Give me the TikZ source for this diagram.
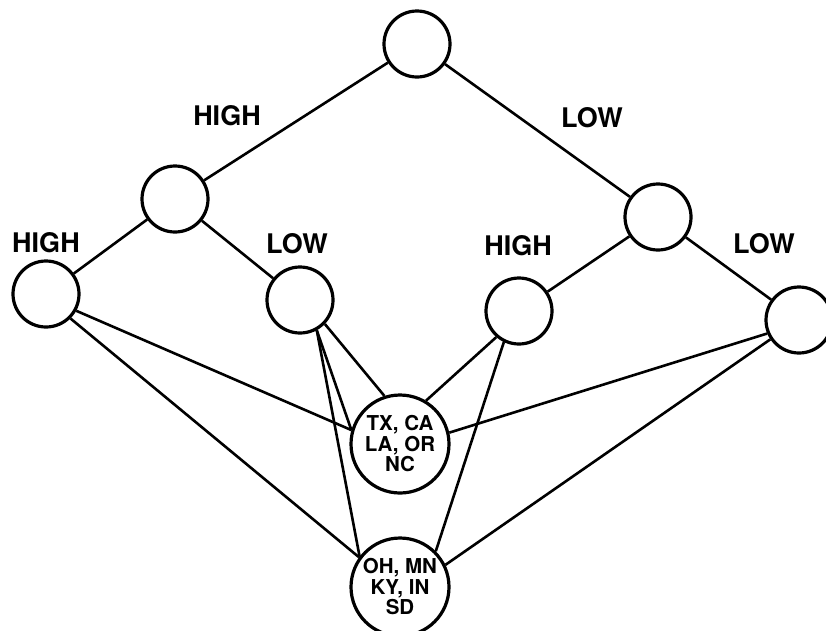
\documentclass[tikz,border=0pt]{standalone}
\usepackage{fontspec}
\setmainfont{TeX Gyre Heros}
\begin{document}
\begin{tikzpicture}[x=1pt,y=-1pt,
  vtx/.style={circle,draw,line width=3.2pt,minimum size=66pt,inner sep=0pt,fill=white},
  big/.style={circle,draw,line width=3.2pt,minimum size=98pt,inner sep=0pt,fill=white,
    align=center,font=\fontsize{20.5}{20.5}\selectfont\bfseries},
  lab/.style={anchor=base,inner sep=0pt,font=\fontsize{27}{27}\selectfont\bfseries},
  edge/.style={line width=2.6pt}]
\useasboundingbox (0,0) rectangle (826,630);
\node[vtx] (T) at (417,44) {};
\node[vtx] (A) at (175,199) {};
\node[vtx] (B) at (658,217) {};
\node[vtx] (L1) at (46,294) {};
\node[vtx] (L2) at (300,300) {};
\node[vtx] (L3) at (519,311) {};
\node[vtx] (L4) at (799,320) {};
\node[big] (TX) at (400,444) {TX, CA\\LA, OR\\NC};
\node[big] (OH) at (400,587) {OH, MN\\KY, IN\\SD};
\draw[edge] (T) -- (A);
\draw[edge] (T) -- (B);
\draw[edge] (A) -- (L1);
\draw[edge] (A) -- (L2);
\draw[edge] (B) -- (L3);
\draw[edge] (B) -- (L4);
\draw[edge] (L1.-29) -- (TX.164);
\draw[edge] (L1.-45) -- (OH.144);
\draw[edge] (L2.-44) -- (TX.108);
\draw[edge] (L2.-61) -- (TX.164);
\draw[edge] (L2.-61) -- (OH.143);
\draw[edge] (L3.-131) -- (TX.59);
\draw[edge] (L3.-116) -- (OH.45);
\draw[edge] (L4.-157) -- (TX.13);
\draw[edge] (L4.-146) -- (OH.26);
\node[lab] (h1) at (227,125) {HIGH};
\node[lab] (w1) at (592,127) {LOW};
\node[lab] (h2) at (46,252) {HIGH};
\node[lab] (w2) at (297,253) {LOW};
\node[lab] (h3) at (518,255) {HIGH};
\node[lab] (w3) at (764,253) {LOW};
\end{tikzpicture}
\end{document}
